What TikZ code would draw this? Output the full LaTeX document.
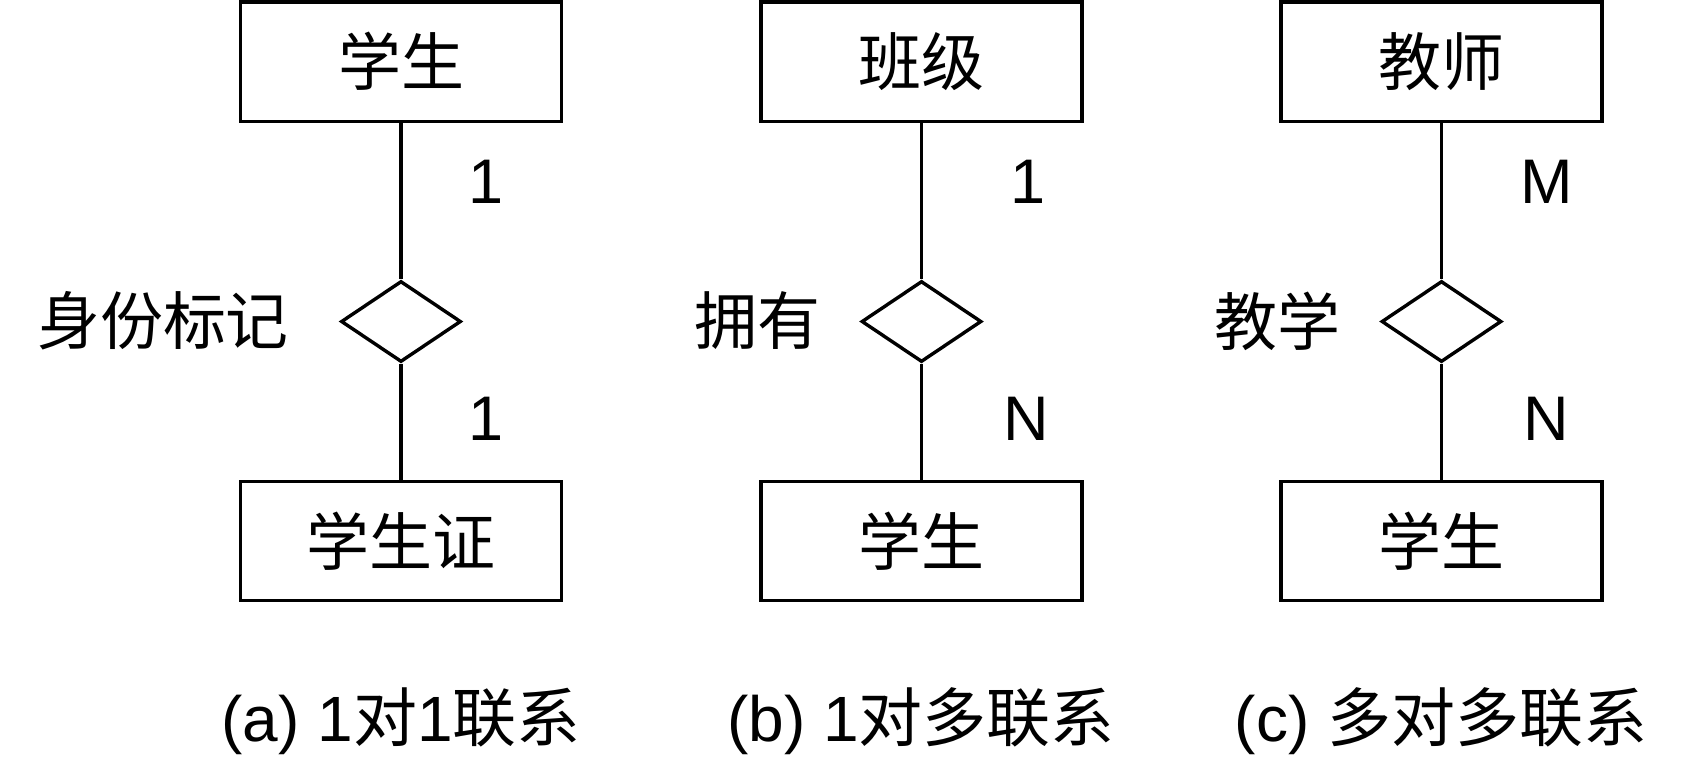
\documentclass[tikz,border=0pt]{standalone}
\usepackage{fontspec}
\setmainfont{Liberation Sans}
\newfontfamily\cjk{Noto Sans CJK SC}
\usetikzlibrary{shapes.geometric}
\begin{document}
\begin{tikzpicture}[x=1pt,y=-1pt,line width=3.4pt,
  entity/.style={draw,rectangle,minimum width=321pt,minimum height=119.5pt,inner sep=0pt,font=\fontsize{63}{70}\selectfont\cjk},
  rel/.style={draw,diamond,minimum width=120pt,minimum height=81pt,inner sep=0pt},
  card/.style={font=\fontsize{63}{70}\selectfont,inner sep=0pt},
  rname/.style={font=\fontsize{63}{70}\selectfont\cjk,inner sep=0pt},
  captxt/.style={font=\fontsize{64}{70}\selectfont,inner sep=0pt}]
\useasboundingbox (0,0) rectangle (1684,764);
% panel a
\node[entity] (a1) at (401,61.7) {学生};
\node[rel] (ar) at (401,321.5) {};
\node[entity] (a2) at (401,541) {学生证};
\draw (a1) -- (ar) -- (a2);
\node[card] (ac1) at (486.5,181.5) {1};
\node[card] (ac2) at (486.5,419) {1};
\node[rname] (an) at (163,321) {身份标记};
\node[captxt] (acap) at (401,721) {(a) 1{\cjk 对}1{\cjk 联系}};
% panel b
\node[entity] (b1) at (921.5,61.7) {班级};
\node[rel] (br) at (921.5,321.5) {};
\node[entity] (b2) at (921.5,541) {学生};
\draw (b1) -- (br) -- (b2);
\node[card] (bc1) at (1028,181.5) {1};
\node[card] (bc2) at (1026,419) {N};
\node[rname] (bn) at (757,321) {拥有};
\node[captxt] (bcap) at (921,721) {(b) 1{\cjk 对多联系}};
% panel c
\node[entity] (c1) at (1441.5,61.7) {教师};
\node[rel] (cr) at (1441.5,321.5) {};
\node[entity] (c2) at (1441.5,541) {学生};
\draw (c1) -- (cr) -- (c2);
\node[card] (cc1) at (1546.6,181.5) {M};
\node[card] (cc2) at (1546.6,419) {N};
\node[rname] (cn) at (1277,321) {教学};
\node[captxt] (ccap) at (1441,721) {(c) {\cjk 多对多联系}};
\end{tikzpicture}
\end{document}
